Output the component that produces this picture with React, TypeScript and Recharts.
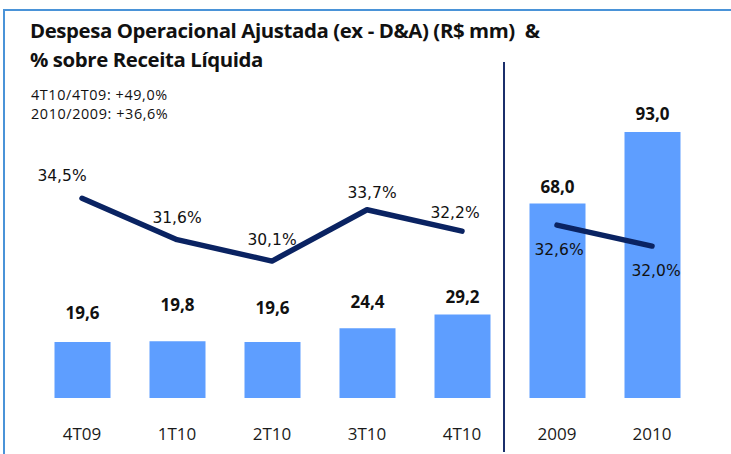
import { ComposedChart, Bar, Line, XAxis, YAxis, LabelList } from "recharts";

const categories = ["4T09", "1T10", "2T10", "3T10", "4T10", "2009", "2010"];
const expense = [19.6, 19.8, 19.6, 24.4, 29.2, 68.0, 93.0];
const quarterPct = [34.5, 31.6, 30.1, 33.7, 32.2, null, null];
const yearPct = [null, null, null, null, null, 32.6, 32.0];

// label nudges (px), kept apart from the values
const barLabelGap = [29, 37, 34, 27, 18, 17, 19];
const pctLabelDx = [-20, 0, 0, 5, -7, 2, 4];
const pctLabelDy = [-22, -22, -21, -17, -18, 25, 25];

const data = categories.map((c, i) => ({
  name: c,
  expense: expense[i],
  quarter: quarterPct[i],
  year: yearPct[i],
}));

const fmt = (v: number) => v.toFixed(1).replace(".", ",");

const font = "'Open Sans', 'Noto Sans', sans-serif";

const BarValue = (props: any) => {
  const { x, y, width, value, index } = props;
  return (
    <text
      x={x + width / 2}
      y={y - barLabelGap[index]}
      textAnchor="middle"
      dominantBaseline="central"
      fontFamily={font}
      fontWeight={700}
      fontSize={17}
      fill="#111"
    >
      {fmt(value)}
    </text>
  );
};

const PctValue = (props: any) => {
  const { x, y, value, index } = props;
  if (value == null) return null;
  return (
    <text
      x={x + pctLabelDx[index]}
      y={y + pctLabelDy[index]}
      textAnchor="middle"
      dominantBaseline="central"
      fontFamily="'DejaVu Sans', sans-serif"
      fontSize={15.5}
      fill="#111"
    >
      {fmt(value) + "%"}
    </text>
  );
};

export default function App() {
  return (
    <div
      style={{
        position: "absolute",
        left: 0,
        top: 0,
        width: 731,
        height: 454,
        overflow: "hidden",
        background: "#fff",
      }}
    >
      <div
        style={{
          position: "absolute",
          left: 3,
          top: 9,
          width: 760,
          height: 480,
          borderLeft: "2px solid #4a93d8",
          borderTop: "2px solid #4a93d8",
        }}
      />
      <div
        style={{
          position: "absolute",
          left: 30,
          top: 16,
          fontFamily: font,
          fontWeight: 700,
          fontSize: 20.4,
          lineHeight: "29px",
          letterSpacing: -0.4,
          color: "#111",
          whiteSpace: "pre",
        }}
      >
        {"Despesa Operacional Ajustada (ex - D&A) (R$ mm)  &\n% sobre Receita Líquida"}
      </div>
      <div
        style={{
          position: "absolute",
          left: 31,
          top: 85,
          fontFamily: font,
          fontSize: 14.4,
          lineHeight: "19px",
          letterSpacing: 0.6,
          color: "#111",
          whiteSpace: "pre",
        }}
      >
        {"4T10/4T09: +49,0%\n2010/2009: +36,6%"}
      </div>
      <div
        style={{
          position: "absolute",
          left: 503,
          top: 62,
          width: 2,
          height: 390,
          background: "#1b2f6b",
        }}
      />
      <div style={{ position: "absolute", left: 0, top: 0 }}>
        <ComposedChart
          width={731}
          height={454}
          data={data}
          margin={{ top: 112, right: 31.5, bottom: 26, left: 34.5 }}
        >
          <XAxis
            dataKey="name"
            height={30}
            axisLine={false}
            tickLine={false}
            tickSize={0}
            tickMargin={30}
            tick={{ fontFamily: font, fontSize: 17, fill: "#1a1a1a" }}
            interval={0}
          />
          <YAxis yAxisId="v" domain={[0, 100]} hide />
          <YAxis yAxisId="q" domain={[20.5, 40.55]} hide />
          <YAxis yAxisId="y" domain={[27.66, 35.83]} hide />
          <Bar yAxisId="v" dataKey="expense" fill="#5e9eff" barSize={56} isAnimationActive={false}>
            <LabelList dataKey="expense" content={BarValue} />
          </Bar>
          <Line
            yAxisId="q"
            dataKey="quarter"
            stroke="#0a2362"
            strokeWidth={5.5}
            strokeLinecap="round"
            strokeLinejoin="round"
            dot={false}
            activeDot={false}
            isAnimationActive={false}
          >
            <LabelList dataKey="quarter" content={PctValue} />
          </Line>
          <Line
            yAxisId="y"
            dataKey="year"
            stroke="#0a2362"
            strokeWidth={5.5}
            strokeLinecap="round"
            dot={false}
            activeDot={false}
            isAnimationActive={false}
          >
            <LabelList dataKey="year" content={PctValue} />
          </Line>
        </ComposedChart>
      </div>
    </div>
  );
}
